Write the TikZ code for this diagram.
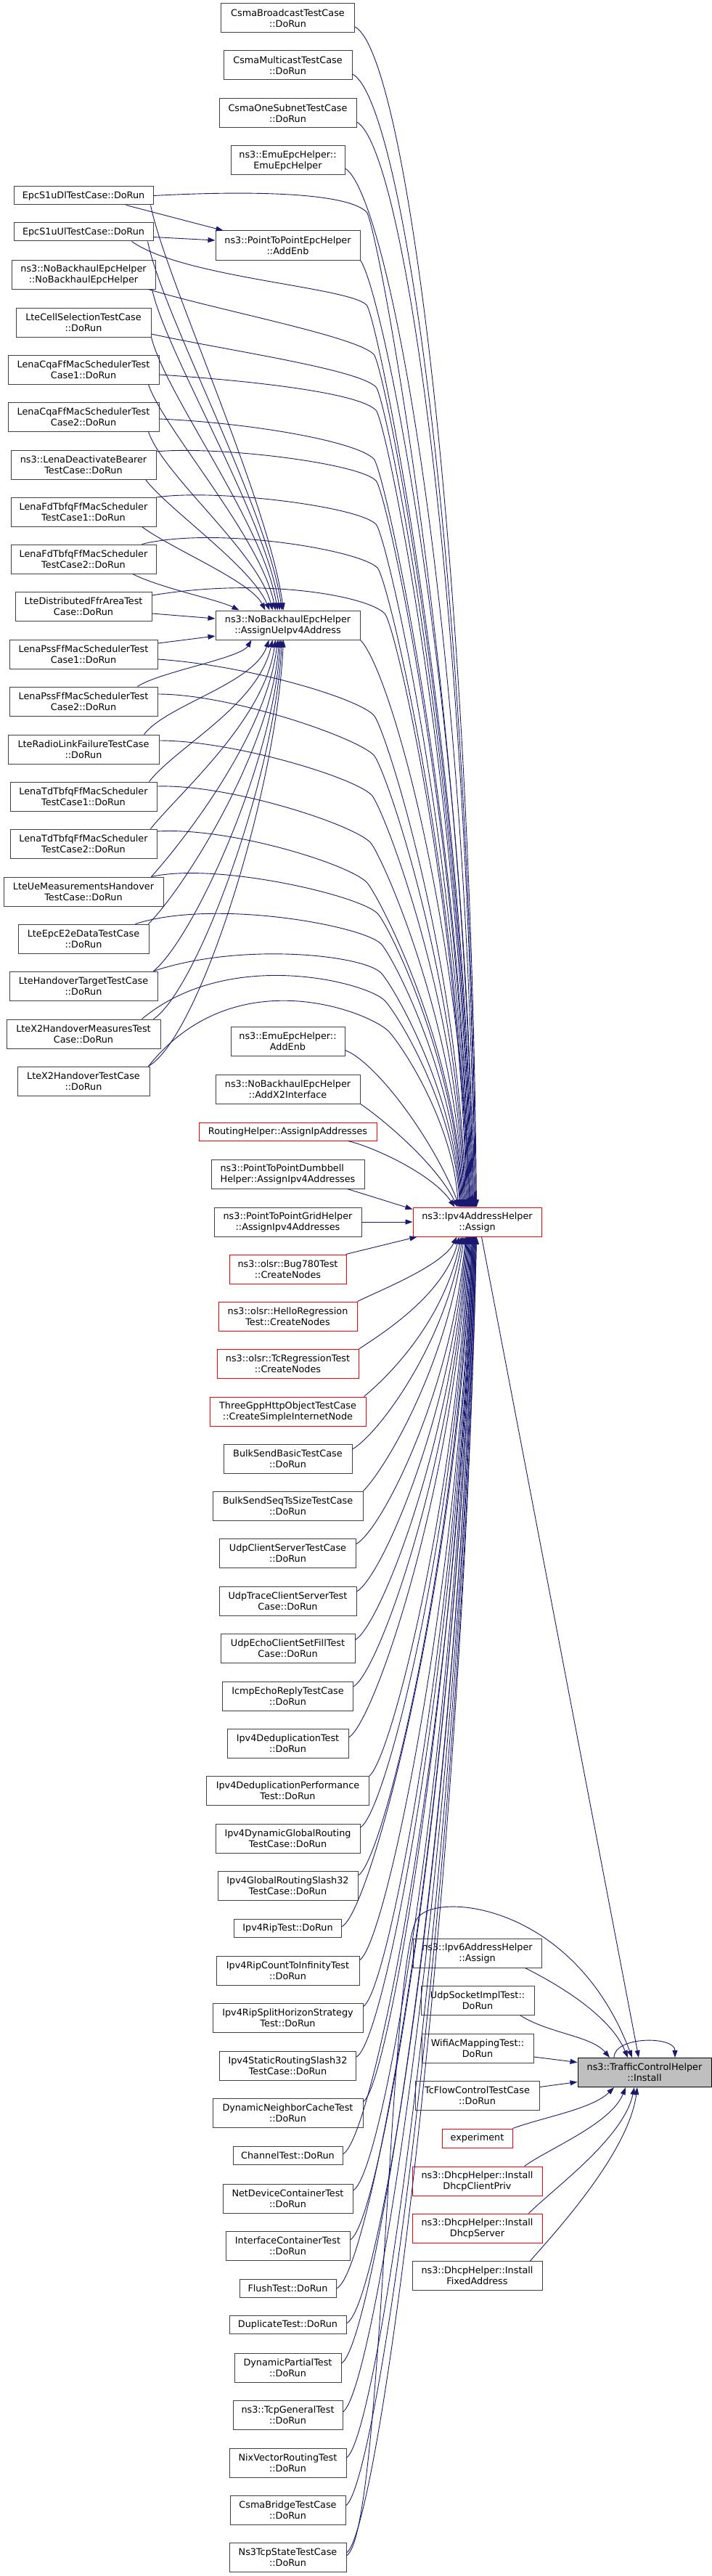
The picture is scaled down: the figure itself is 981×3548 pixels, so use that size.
\documentclass[tikz,border=0pt]{standalone}
\usepackage{fontspec}
\setsansfont{DejaVu Sans}
\usetikzlibrary{arrows.meta}
\definecolor{edgeblue}{HTML}{191970}
\definecolor{boxgray}{HTML}{BFBFBF}
\definecolor{boxline}{HTML}{404040}
\tikzset{
	func_node/.style = {
		draw=boxline,
		fill=white,
		align=center,
		inner sep=0pt,
		font=\sffamily\fontsize{12.8pt}{15pt}\selectfont,
		minimum height=40pt,
		line width=1pt
	},
	func_short/.style = {
		func_node,
		minimum height=25pt
	},
	func_red/.style = {
		func_node,
		draw=red
	},
	func_focus/.style = {
		func_node,
		draw=black,
		fill=boxgray
	},
	call_edge/.style = {
		draw=edgeblue,
		line width=0.9pt,
		->
	},
}

\begin{document}
\begin{tikzpicture}[x=1pt, y=-1pt, >={Triangle[length=10pt,width=7pt]}]
\path[fill=white] (0,0) rectangle (981,3548);
\useasboundingbox (0,0) rectangle (981,3548);

% callers of AssignUeIpv4Address
\node [func_short, minimum width=192pt] (s1udl) at (115,269.5) {EpcS1uDlTestCase::DoRun};
\node [func_short, minimum width=192pt] (s1uul) at (115,319.5) {EpcS1uUlTestCase::DoRun};
\node [func_node, minimum width=198pt] (nbctor) at (115,378) {ns3::NoBackhaulEpcHelper\\::NoBackhaulEpcHelper};
\node [func_node, minimum width=186pt] (cellsel) at (115,444) {LteCellSelectionTestCase\\::DoRun};
\node [func_node, minimum width=208pt] (cqa1) at (115,509) {LenaCqaFfMacSchedulerTest\\Case1::DoRun};
\node [func_node, minimum width=208pt] (cqa2) at (115,574) {LenaCqaFfMacSchedulerTest\\Case2::DoRun};
\node [func_node, minimum width=200pt] (deact) at (115,640) {ns3::LenaDeactivateBearer\\TestCase::DoRun};
\node [func_node, minimum width=200pt] (fdtbfq1) at (115,705) {LenaFdTbfqFfMacScheduler\\TestCase1::DoRun};
\node [func_node, minimum width=200pt] (fdtbfq2) at (115,770) {LenaFdTbfqFfMacScheduler\\TestCase2::DoRun};
\node [func_node, minimum width=188pt] (ffr) at (115,835) {LteDistributedFfrAreaTest\\Case::DoRun};
\node [func_node, minimum width=204pt] (pss1) at (115,901) {LenaPssFfMacSchedulerTest\\Case1::DoRun};
\node [func_node, minimum width=204pt] (pss2) at (115,966) {LenaPssFfMacSchedulerTest\\Case2::DoRun};
\node [func_node, minimum width=208pt] (rlf) at (115,1032) {LteRadioLinkFailureTestCase\\::DoRun};
\node [func_node, minimum width=202pt] (tdtbfq1) at (115,1097) {LenaTdTbfqFfMacScheduler\\TestCase1::DoRun};
\node [func_node, minimum width=202pt] (tdtbfq2) at (115,1162) {LenaTdTbfqFfMacScheduler\\TestCase2::DoRun};
\node [func_node, minimum width=220pt] (uemeas) at (115,1228) {LteUeMeasurementsHandover\\TestCase::DoRun};
\node [func_node, minimum width=180pt] (e2e) at (115,1293) {LteEpcE2eDataTestCase\\::DoRun};
\node [func_node, minimum width=204pt] (hotarget) at (115,1358) {LteHandoverTargetTestCase\\::DoRun};
\node [func_node, minimum width=212pt] (x2meas) at (115,1424) {LteX2HandoverMeasuresTest\\Case::DoRun};
\node [func_node, minimum width=182pt] (x2ho) at (115,1489) {LteX2HandoverTestCase\\::DoRun};

% callers of Ipv4AddressHelper::Assign
\node [func_node, minimum width=184pt] (csmabc) at (396.5,25) {CsmaBroadcastTestCase\\::DoRun};
\node [func_node, minimum width=177pt] (csmamc) at (396.5,90) {CsmaMulticastTestCase\\::DoRun};
\node [func_node, minimum width=189pt] (csmaone) at (396.5,156) {CsmaOneSubnetTestCase\\::DoRun};
\node [func_node, minimum width=157pt] (emuctor) at (396.5,221) {ns3::EmuEpcHelper::\\EmuEpcHelper};
\node [func_node, minimum width=199pt] (p2paddenb) at (396.5,338) {ns3::PointToPointEpcHelper\\::AddEnb};
\node [func_node, minimum width=199pt] (assignue) at (396.5,861) {ns3::NoBackhaulEpcHelper\\::AssignUeIpv4Address};
\node [func_node, minimum width=157pt] (emuaddenb) at (396.5,1434.5) {ns3::EmuEpcHelper::\\AddEnb};
\node [func_node, minimum width=199pt] (addx2) at (396.5,1500) {ns3::NoBackhaulEpcHelper\\::AddX2Interface};
\node [func_short, func_red, minimum height=25pt, minimum width=245pt] (routing) at (396.5,1558.5) {RoutingHelper::AssignIpAddresses};
\node [func_node, align=left, minimum width=211pt] (dumbbell) at (396.5,1617) {ns3::PointToPointDumbbell\\Helper::AssignIpv4Addresses};
\node [func_node, minimum width=203pt] (grid) at (396.5,1683) {ns3::PointToPointGridHelper\\::AssignIpv4Addresses};
\node [func_red, minimum width=161pt] (bug780) at (396.5,1748) {ns3::olsr::Bug780Test\\::CreateNodes};
\node [func_red, minimum width=191pt] (hello) at (396.5,1813) {ns3::olsr::HelloRegression\\Test::CreateNodes};
\node [func_red, minimum width=195pt] (tcreg) at (396.5,1878.5) {ns3::olsr::TcRegressionTest\\::CreateNodes};
\node [func_red, minimum width=215pt] (threegpp) at (396.5,1944) {ThreeGppHttpObjectTestCase\\::CreateSimpleInternetNode};
\node [func_node, minimum width=177pt] (bulkbasic) at (396.5,2009) {BulkSendBasicTestCase\\::DoRun};
\node [func_node, minimum width=207pt] (bulkseq) at (396.5,2074) {BulkSendSeqTsSizeTestCase\\::DoRun};
\node [func_node, minimum width=188pt] (udpcs) at (396.5,2139.5) {UdpClientServerTestCase\\::DoRun};
\node [func_node, minimum width=189pt] (udptrace) at (396.5,2205) {UdpTraceClientServerTest\\Case::DoRun};
\node [func_node, minimum width=185pt] (udpecho) at (396.5,2270.5) {UdpEchoClientSetFillTest\\Case::DoRun};
\node [func_node, minimum width=180pt] (icmp) at (396.5,2336) {IcmpEchoReplyTestCase\\::DoRun};
\node [func_node, minimum width=167pt] (dedup) at (396.5,2401) {Ipv4DeduplicationTest\\::DoRun};
\node [func_node, minimum width=224pt] (dedupperf) at (396.5,2466.5) {Ipv4DeduplicationPerformance\\Test::DoRun};
\node [func_node, minimum width=199pt] (dyngr) at (396.5,2532) {Ipv4DynamicGlobalRouting\\TestCase::DoRun};
\node [func_node, minimum width=193pt] (gr32) at (396.5,2597) {Ipv4GlobalRoutingSlash32\\TestCase::DoRun};
\node [func_short, minimum width=148pt] (rip) at (396.5,2655.5) {Ipv4RipTest::DoRun};
\node [func_node, minimum width=197pt] (ripcti) at (396.5,2714.5) {Ipv4RipCountToInfinityTest\\::DoRun};
\node [func_node, minimum width=207pt] (ripsplit) at (396.5,2779.5) {Ipv4RipSplitHorizonStrategy\\Test::DoRun};
\node [func_node, minimum width=188pt] (static32) at (396.5,2845) {Ipv4StaticRoutingSlash32\\TestCase::DoRun};
\node [func_node, minimum width=207pt] (dnc) at (396.5,2910.5) {DynamicNeighborCacheTest\\::DoRun};
\node [func_short, minimum width=151pt] (channel) at (396.5,2969) {ChannelTest::DoRun};
\node [func_node, minimum width=179pt] (netdev) at (396.5,3028) {NetDeviceContainerTest\\::DoRun};
\node [func_node, minimum width=171pt] (ifcont) at (396.5,3093) {InterfaceContainerTest\\::DoRun};
\node [func_short, minimum width=133pt] (flush) at (396.5,3152) {FlushTest::DoRun};
\node [func_short, minimum width=161pt] (duplicate) at (396.5,3202) {DuplicateTest::DoRun};
\node [func_node, minimum width=147pt] (dynpartial) at (396.5,3261) {DynamicPartialTest\\::DoRun};
\node [func_node, minimum width=151pt] (tcpgeneral) at (396.5,3326) {ns3::TcpGeneralTest\\::DoRun};
\node [func_node, minimum width=161pt] (nix) at (396.5,3392) {NixVectorRoutingTest\\::DoRun};
\node [func_node, minimum width=159pt] (csmabridge) at (396.5,3457) {CsmaBridgeTestCase\\::DoRun};
\node [func_node, minimum width=161pt] (tcpstate) at (396.5,3522) {Ns3TcpStateTestCase\\::DoRun};

% callers of TrafficControlHelper::Install
\node [func_red, minimum width=177pt] (assign) at (657.5,1683) {ns3::Ipv4AddressHelper\\::Assign};
\node [func_node, minimum width=177pt] (ipv6) at (657.5,2690) {ns3::Ipv6AddressHelper\\::Assign};
\node [func_node, minimum width=156pt] (udpsock) at (658,2755.5) {UdpSocketImplTest::\\DoRun};
\node [func_node, minimum width=154pt] (wifiac) at (658,2821) {WifiAcMappingTest::\\DoRun};
\node [func_node, minimum width=171pt] (tcflow) at (657.5,2886.5) {TcFlowControlTestCase\\::DoRun};
\node [func_red, minimum height=26pt, minimum width=97pt] (experiment) at (657.5,2945) {experiment};
\node [func_red, minimum width=179pt] (dhcpclient) at (657.5,3004) {ns3::DhcpHelper::Install\\DhcpClientPriv};
\node [func_red, minimum width=179pt] (dhcpserver) at (657.5,3069) {ns3::DhcpHelper::Install\\DhcpServer};
\node [func_node, minimum width=179pt] (dhcpfixed) at (657.5,3134.5) {ns3::DhcpHelper::Install\\FixedAddress};
\node [func_focus, minimum width=184pt] (install) at (888,2854.5) {ns3::TrafficControlHelper\\::Install};

% edges into AddEnb and AssignUeIpv4Address
\draw [call_edge] ([xshift=-38pt]s1udl.south east) -- ([xshift=-89pt]p2paddenb.north);
\draw [call_edge] ([yshift=-7pt]s1uul.east) -- ([yshift=7pt]p2paddenb.west);
\foreach \n/\an/\sx/\hx/\hy/\dx/\cx/\cy in {
	s1udl/south east/-4/20/100/-6/-20/-150,
	s1uul/south east/-8/20/100/-8/-20/-140,
	nbctor/south east/-5/20/90/-11/-20/-130,
	cellsel/south east/0/20/80/-14/-20/-120,
	cqa1/south east/-15/20/60/-17/-20/-100,
	cqa2/south east/-15/20/60/-21/-20/-80,
	deact/south east/-15/30/40/-25/-25/-60,
	fdtbfq1/south east/-20/40/30/-31/-20/-40,
	fdtbfq2/south east/-33/40/20/-67/-30/-15}
	\draw [call_edge] ([xshift=\sx pt]\n.\an) .. controls +(\hx,\hy) and +(\cx,\cy) .. ([xshift=\dx pt]assignue.north);
\draw [call_edge] ([yshift=-10pt]ffr.east) -- ([yshift=9pt]assignue.west);
\draw [call_edge] ([yshift=15pt]pss1.east) -- ([yshift=-15pt]assignue.west);
\foreach \n/\sx/\hx/\hy/\dx/\cx/\cy in {
	pss2/-28/30/-20/-50/-15/25,
	rlf/-21/30/-40/-26/-20/60,
	tdtbfq1/-11/40/-50/-21/-20/90,
	tdtbfq2/-9/40/-50/-17/-15/110,
	uemeas/-17/45/-50/-14/-15/130,
	e2e/-1/50/-50/-12/-10/150,
	hotarget/-6/55/-45/-10/-10/170,
	x2meas/-10/60/-40/-8/-10/190,
	x2ho/-2/70/-40/-6/-10/210}
	\draw [call_edge] ([xshift=\sx pt]\n.north east) .. controls +(\hx,\hy) and +(\cx,\cy) .. ([xshift=\dx pt]assignue.south);

% edges into Ipv4AddressHelper::Assign, from the left column
\foreach \n/\an/\sx/\sy/\hx/\hy/\kx/\ky/\dx/\cy in {
	s1udl/east/0/0/150/-8/505/292/-6/-685,
	s1uul/south east/-30/0/70/50/505/420/-7/-620,
	nbctor/south east/-10/0/100/30/515/488/-8/-587,
	cellsel/east/0/-16/100/22/518/533/-9/-565,
	cqa1/east/0/-7/120/8/518/565/-10/-549,
	cqa2/east/0/-3/120/5/515/632/-11/-515,
	deact/east/0/18/80/-8/518/662/-12/-500,
	fdtbfq1/east/0/20/80/-12/518/722/-13/-470,
	fdtbfq2/north east/-20/0/100/-25/520/782/-14/-440,
	ffr/east/0/15/150/-25/530/845/-15/-409,
	pss1/east/0/-7/120/8/515/985/-16/-339,
	pss2/east/0/10/100/0/515/1040/-17/-311,
	rlf/east/0/12/100/0/512/1095/-18/-284,
	tdtbfq1/east/0/14/100/-3/510/1160/-19/-251,
	tdtbfq2/east/0/17/100/-6/505/1215/-20/-224,
	uemeas/north east/-17/0/90/-20/520/1258/-21/-202,
	e2e/north east/-19/0/110/-35/525/1300/-22/-181,
	hotarget/north east/-6/0/120/-40/525/1340/-23/-161,
	x2meas/north east/-26/0/120/-100/530/1378/-24/-142,
	x2ho/north east/-2/0/120/-150/535/1420/-26/-121}
	\draw [call_edge] ([xshift=\sx pt,yshift=\sy pt]\n.\an) .. controls +(\hx,\hy) and +(-25,-25) .. (\kx,\ky)
		.. controls +(15,15) and +(-8,\cy) .. ([xshift=\dx pt]assign.north);

% edges into Ipv4AddressHelper::Assign, from above
\foreach \n/\an/\sy/\hx/\hy/\dx/\cx/\cy in {
	csmabc/east/-12/70/35/-1/-8/-900,
	csmamc/east/-12/70/35/-2/-8/-865,
	csmaone/east/-12/65/35/-3/-8/-830,
	emuctor/east/-11/60/35/-4/-8/-790,
	p2paddenb/south east/0/30/40/-5/-10/-700,
	assignue/south east/0/40/40/-10/-15/-400,
	emuaddenb/east/-12/40/15/-24/-40/-100,
	addx2/south east/0/30/20/-27/-30/-60}
	\draw [call_edge] ([yshift=\sy pt]\n.\an) .. controls +(\hx,\hy) and +(\cx,\cy) .. ([xshift=\dx pt]assign.north);
\draw [call_edge] ([xshift=83pt]routing.south) .. controls +(35,8) and +(-30,-45) .. ([xshift=-31pt]assign.north);
\draw [call_edge] ([xshift=-24pt]dumbbell.south east) -- ([yshift=-3pt]assign.north west);
\draw [call_edge] (grid.east) -- (assign.west);
\draw [call_edge] ([xshift=-1pt]bug780.north east) -- ([xshift=6pt]assign.south west);

% edges into Ipv4AddressHelper::Assign, from below
\foreach \n/\an/\sx/\sy/\hx/\hy/\dx/\cx/\cy in {
	hello/north east/0/0/30/-15/-28/-20/40,
	tcreg/north east/0/0/30/-20/-25/-20/80,
	threegpp/north east/-3/0/30/-25/-22/-25/120,
	bulkbasic/east/0/13/35/-20/-20/-25/150,
	bulkseq/north east/0/0/30/-30/-18/-25/180,
	udpcs/east/0/13/35/-20/-16/-20/215,
	udptrace/east/0/13/35/-20/-15/-20/245,
	udpecho/east/0/12/35/-20/-14/-20/280,
	icmp/east/0/13/35/-20/-13/-20/310,
	dedup/east/0/8/35/-20/-12/-20/345,
	dedupperf/north east/0/0/30/-25/-11/-20/370,
	dyngr/east/0/15/35/-20/-10/-20/407,
	gr32/east/0/14/35/-20/-9/-20/440,
	rip/east/0/2/40/-20/-8/-20/475,
	ripcti/east/0/15/35/-20/-7/-20/498,
	ripsplit/east/0/16/35/-20/-7/-20/530,
	static32/east/0/12/40/-20/-6/-20/565,
	dnc/east/0/16/35/-20/-6/-20/595,
	channel/east/0/2/45/-25/-5/-20/632,
	netdev/east/0/11/45/-25/-5/-20/657,
	ifcont/east/0/8/45/-25/-4/-20/690,
	flush/east/0/0/50/-20/-4/-20/725,
	duplicate/east/0/2/50/-25/-3/-20/750,
	dynpartial/east/0/6/45/-25/-3/-20/776,
	tcpgeneral/east/0/4/45/-30/-2/-20/810,
	nix/east/0/7/45/-30/-2/-20/841,
	csmabridge/east/0/6/45/-30/-1/-20/874,
	tcpstate/east/0/6/45/-30/-1/-20/906}
	\draw [call_edge] ([xshift=\sx pt,yshift=\sy pt]\n.\an) .. controls +(\hx,\hy) and +(\cx,\cy) .. ([xshift=\dx pt]assign.south);

% edges into TrafficControlHelper::Install
\draw [call_edge] ([xshift=6pt]assign.south) -- ([xshift=-8pt]install.north);
\draw [call_edge] ([xshift=66pt]ipv6.south) .. controls +(40,20) and +(-25,-60) .. ([xshift=-23pt]install.north);
\draw [call_edge] ([xshift=59pt]udpsock.south) .. controls +(40,25) and +(-25,-30) .. ([xshift=-48pt]install.north);
\draw [call_edge] ([yshift=-12pt]wifiac.east) -- ([yshift=14pt]install.west);
\draw [call_edge] ([yshift=12pt]tcflow.east) -- ([yshift=-13pt]install.west);
\draw [call_edge] (experiment.north east) .. controls +(40,-15) and +(-30,30) .. ([xshift=-42pt]install.south);
\draw [call_edge] ([xshift=-25pt]dhcpclient.north east) .. controls +(35,-25) and +(-20,50) .. ([xshift=-26pt]install.south);
\draw [call_edge] ([xshift=-19pt]dhcpserver.north east) .. controls +(35,-35) and +(-15,70) .. ([xshift=-14pt]install.south);
\draw [call_edge] ([xshift=-17pt]dhcpfixed.north east) .. controls +(35,-40) and +(-12,90) .. ([xshift=-10pt]install.south);
\draw [call_edge] ([yshift=2pt]tcpstate.east) .. controls +(50,-30) and +(-40,60) .. (575,2642)
	.. controls +(25,-37) and +(-81,-214) .. ([xshift=-17pt]install.north);
\draw [call_edge] ([xshift=-42pt]install.north) .. controls +(0,-30) and +(0,-30) .. ([xshift=42pt]install.north);
\end{tikzpicture}
\end{document}
